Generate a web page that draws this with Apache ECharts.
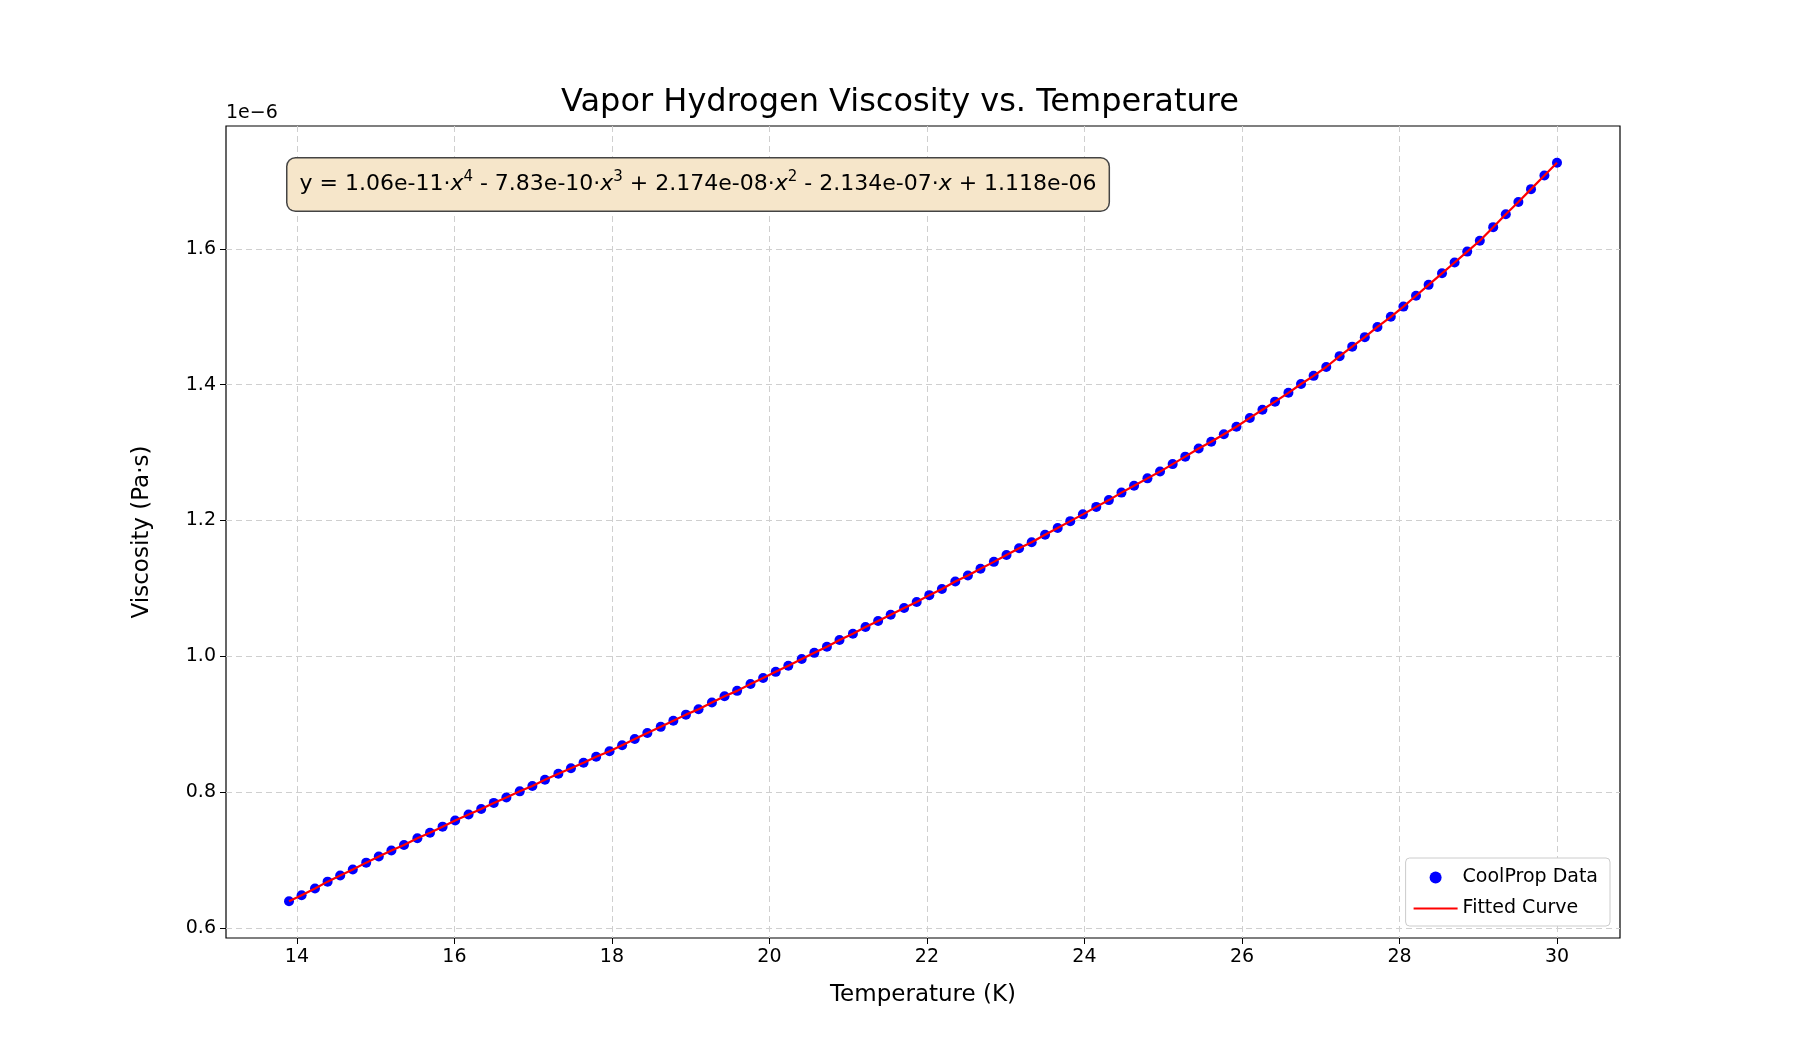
<!DOCTYPE html>
<html>
<head>
<meta charset="utf-8">
<script src="https://cdn.jsdelivr.net/npm/echarts@6/dist/echarts.min.js"></script>
<style>html,body{margin:0;padding:0;background:#fff}#main{width:1800px;height:1050px}</style>
</head>
<body>
<div id="main"></div>
<script>
var temperature = [13.90,14.06,14.23,14.39,14.55,14.71,14.88,15.04,15.20,15.36,15.53,15.69,15.85,16.01,16.18,16.34,16.50,16.66,16.83,16.99,
  17.15,17.32,17.48,17.64,17.80,17.97,18.13,18.29,18.45,18.62,18.78,18.94,19.10,19.27,19.43,19.59,19.76,19.92,20.08,20.24,
  20.41,20.57,20.73,20.89,21.06,21.22,21.38,21.54,21.71,21.87,22.03,22.19,22.36,22.52,22.68,22.85,23.01,23.17,23.33,23.50,
  23.66,23.82,23.98,24.15,24.31,24.47,24.63,24.80,24.96,25.12,25.28,25.45,25.61,25.77,25.93,26.10,26.26,26.42,26.59,26.75,
  26.91,27.07,27.24,27.40,27.56,27.72,27.89,28.05,28.21,28.37,28.54,28.70,28.86,29.02,29.19,29.35,29.51,29.67,29.84,30.00];
// viscosity in units of 1e-6 Pa·s
var viscosity = [0.639,0.648,0.658,0.668,0.677,0.686,0.696,0.705,0.714,0.722,0.732,0.740,0.749,0.758,0.767,0.775,0.784,0.792,0.801,0.809,
  0.818,0.827,0.835,0.843,0.852,0.860,0.869,0.878,0.887,0.896,0.905,0.914,0.922,0.932,0.941,0.949,0.959,0.968,0.977,0.986,
  0.996,1.005,1.014,1.024,1.033,1.043,1.052,1.061,1.071,1.080,1.090,1.099,1.110,1.119,1.129,1.139,1.149,1.159,1.168,1.179,
  1.189,1.199,1.209,1.220,1.230,1.241,1.251,1.262,1.272,1.283,1.294,1.306,1.316,1.327,1.338,1.351,1.363,1.375,1.388,1.401,
  1.413,1.426,1.442,1.456,1.470,1.485,1.500,1.515,1.531,1.547,1.564,1.580,1.596,1.612,1.632,1.651,1.669,1.688,1.708,1.727];
var xTicks = [14,16,18,20,22,24,26,28,30];
var yTicks = [0.6,0.8,1.0,1.2,1.4,1.6];

var pts = temperature.map(function (t, i) { return [t, viscosity[i]]; });
var font = 'DejaVu Sans';
var chart = echarts.init(document.getElementById('main'));
var option = {
  backgroundColor: '#fff',
  animation: false,
  textStyle: { fontFamily: font },
  title: {
    text: 'Vapor Hydrogen Viscosity vs. Temperature',
    left: 'center', top: 82,
    textStyle: { fontFamily: font, fontWeight: 'normal', fontSize: 32, color: '#000' }
  },
  grid: { left: 226, right: 180, top: 126, bottom: 112, show: true, borderColor: '#000', borderWidth: 1.2, backgroundColor: 'transparent' },
  xAxis: {
    type: 'value', min: 13.1, max: 30.8,
    name: 'Temperature (K)', nameLocation: 'middle', nameGap: 46,
    nameTextStyle: { fontFamily: font, fontSize: 23, color: '#000' },
    axisLine: { show: false },
    axisTick: { show: true, customValues: xTicks, length: 6, lineStyle: { color: '#000' } },
    axisLabel: { customValues: xTicks, fontSize: 19, color: '#000', margin: 10, fontFamily: font },
    splitLine: { show: true, lineStyle: { color: '#cfcfcf', type: [6, 4], width: 1 } }
  },
  yAxis: {
    type: 'value', min: 0.585, max: 1.781,
    name: 'Viscosity (Pa·s)', nameLocation: 'middle', nameGap: 72,
    nameTextStyle: { fontFamily: font, fontSize: 23, color: '#000' },
    axisLine: { show: false },
    axisTick: { show: true, customValues: yTicks, length: 6, lineStyle: { color: '#000' } },
    axisLabel: { customValues: yTicks, fontSize: 19, color: '#000', margin: 10, fontFamily: font,
      formatter: function (v) { return v.toFixed(1); } },
    splitLine: { show: true, lineStyle: { color: '#cfcfcf', type: [6, 4], width: 1 } }
  },
  legend: {
    orient: 'vertical', right: 190, bottom: 124,
    backgroundColor: '#fff', borderColor: '#cccccc', borderWidth: 1, borderRadius: 4,
    padding: [10, 12, 8, 8], itemGap: 12, itemWidth: 44, itemHeight: 12,
    textStyle: { fontFamily: font, fontSize: 19, color: '#000' },
    data: [
      { name: 'CoolProp Data', icon: 'path://M13,6 a3,3 0 1,0 0.01,0 Z' },
      { name: 'Fitted Curve', icon: 'path://M0,5 L40,5 L40,7 L0,7 Z' }
    ]
  },
  graphic: [
    { type: 'text', left: 226, top: 104, style: { text: '1e\u22126', font: '19px "DejaVu Sans"', fill: '#000' } },
    {
      type: 'text', left: 286, top: 157, z: 10,
      style: {
        text: '{t|y = 1.06e-11·}{i|x}{s|4}{t| - 7.83e-10·}{i|x}{s|3}{t| + 2.174e-08·}{i|x}{s|2}{t| - 2.134e-07·}{i|x}{t| + 1.118e-06}',
        backgroundColor: '#f6e6ca', borderColor: '#444', borderWidth: 1.5, borderRadius: 8,
        padding: [12, 12, 12, 12],
        rich: {
          t: { fontFamily: font, fontSize: 22, color: '#000', lineHeight: 28 },
          i: { fontFamily: font, fontSize: 22, fontStyle: 'italic', color: '#000', lineHeight: 28 },
          s: { fontFamily: font, fontSize: 15, color: '#000', lineHeight: 28, padding: [0, 0, 14, 0] }
        }
      }
    }
  ],
  series: [
    {
      name: 'CoolProp Data', type: 'scatter', data: pts, symbolSize: 10,
      itemStyle: { color: '#0000ff', opacity: 1 }, z: 2
    },
    {
      name: 'Fitted Curve', type: 'line', data: pts, showSymbol: false, smooth: false,
      lineStyle: { color: '#ff0000', width: 2.2 }, itemStyle: { color: '#ff0000' }, z: 3
    }
  ]
};
chart.setOption(option, true);
window.addEventListener('resize', function () { chart.resize(); });
</script>
</body>
</html>
